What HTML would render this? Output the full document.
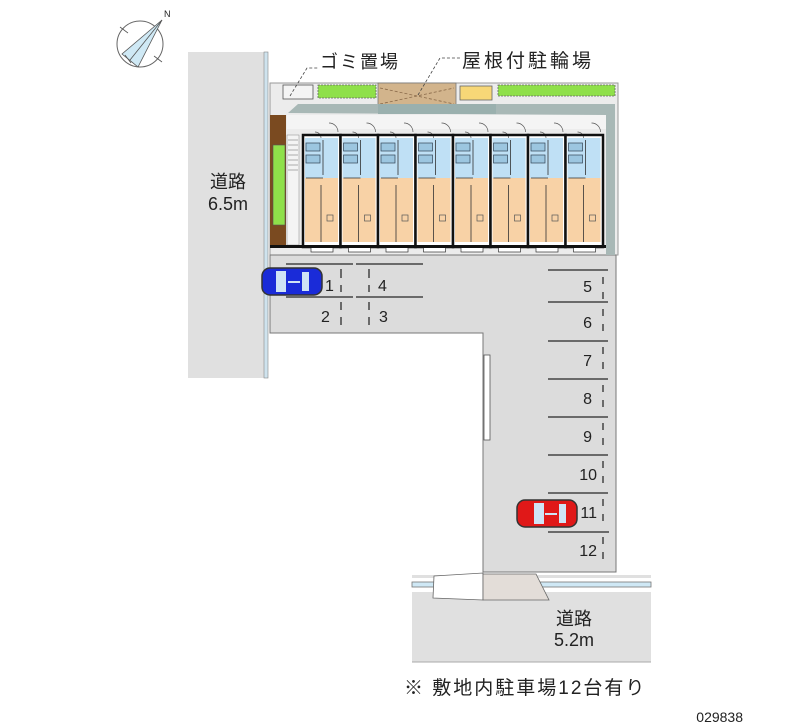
<!DOCTYPE html>
<html><head><meta charset="utf-8"><style>
html,body{margin:0;padding:0;background:#fff;width:800px;height:727px;overflow:hidden}
svg{display:block}
text{font-family:"Liberation Sans","Noto Sans CJK JP",sans-serif;fill:#222}
</style></head><body>
<svg width="800" height="727" viewBox="0 0 800 727" xmlns="http://www.w3.org/2000/svg">
<defs>
<g id="unit">
  <rect x="0" y="0" width="37.5" height="112" fill="#fff"/>
  <rect x="2" y="3" width="33" height="40" fill="#bfe0f5"/>
  <rect x="2" y="43" width="33" height="64" fill="#f8d2a6"/>
  <rect x="3" y="8" width="14" height="8" fill="#9cc6e0" stroke="#345" stroke-width="0.7"/>
  <rect x="3" y="20" width="14" height="8" fill="#9cc6e0" stroke="#345" stroke-width="0.7"/>
  <path d="M20 5 V40 M3 43 H20 M18 50 V107" stroke="#333" stroke-width="0.8" fill="none"/>
  <rect x="24" y="80" width="6" height="6" fill="none" stroke="#555" stroke-width="0.7"/>
  <path d="M12 -3 a6 6 0 0 1 6 6 M26 -12 a9 9 0 0 1 9 9" stroke="#555" stroke-width="0.7" fill="none"/>
  <rect x="0" y="0" width="37.5" height="112" fill="none" stroke="#111" stroke-width="2.5"/>
  <rect x="8" y="112" width="22" height="5" fill="#fff" stroke="#333" stroke-width="0.7"/>
</g>
</defs>
<!-- compass -->
<circle cx="140" cy="44" r="23" fill="none" stroke="#666" stroke-width="1"/>
<path d="M162 20 L122 54 L138 67 Z" fill="#cfe9f5" stroke="#555" stroke-width="0.8"/>
<path d="M162 20 L130 60" stroke="#555" stroke-width="0.8"/>
<path d="M120 27 l8 6 M154 56 l8 6 M125 55 l6 8" stroke="#555" stroke-width="0.8"/>
<text x="164" y="17" font-size="9">N</text>
<!-- left road -->
<rect x="188" y="52" width="77" height="326" fill="#e0e0e0"/>
<rect x="264" y="52" width="4" height="326" fill="#cfe3ee" stroke="#888" stroke-width="0.6"/>
<text x="228" y="188" font-size="18" text-anchor="middle">道路</text>
<text x="228" y="210" font-size="18" text-anchor="middle">6.5m</text>
<!-- lot background -->
<rect x="270" y="83" width="348" height="172" fill="#ececec" stroke="#999" stroke-width="1"/>
<path d="M270 255 H616 V572 H483 V333 H270 Z" fill="#dcdcdc" stroke="#777" stroke-width="1"/>
<rect x="484" y="355" width="6" height="85" fill="#fff" stroke="#555" stroke-width="0.8"/>
<!-- top strip -->
<rect x="283" y="85" width="30" height="14" fill="#f4f4f4" stroke="#555" stroke-width="0.8"/>
<rect x="318" y="85" width="58" height="13" fill="#8fe04a" stroke="#666" stroke-width="0.8" stroke-dasharray="2 1"/>
<rect x="378" y="83" width="78" height="25" fill="#d2b48c" stroke="#777" stroke-width="0.8"/>
<path d="M380 88 L454 104 M380 104 L454 88" stroke="#8a6a4a" stroke-dasharray="3 2" stroke-width="0.8"/>
<rect x="460" y="86" width="32" height="14" fill="#f7d777" stroke="#666" stroke-width="0.8"/>
<rect x="498" y="85" width="117" height="11" fill="#8fe04a" stroke="#666" stroke-width="0.8" stroke-dasharray="2 1"/>
<path d="M288 113 L298 104 H615 V255 H606 V115 Z" fill="#a8b8b6"/>
<rect x="378" y="104" width="118" height="10" fill="#9ab0ae"/>
<rect x="287" y="115" width="319" height="14" fill="#f4f4f4"/>
<!-- left stair / green -->
<rect x="270" y="115" width="16" height="132" fill="#7a4a20"/>
<rect x="273" y="145" width="12" height="80" fill="#8fe04a" stroke="#555" stroke-width="0.6"/>
<rect x="287" y="135" width="12" height="110" fill="#f4f4f4" stroke="#888" stroke-width="0.5"/>
<path d="M288 140 H298 M288 145 H298 M288 150 H298 M288 155 H298 M288 160 H298 M288 165 H298 M288 170 H298" stroke="#666" stroke-width="0.5"/>
<!-- units -->
<g transform="translate(303,135)"><use href="#unit"/></g>
<g transform="translate(340.5,135)"><use href="#unit"/></g>
<g transform="translate(378,135)"><use href="#unit"/></g>
<g transform="translate(415.5,135)"><use href="#unit"/></g>
<g transform="translate(453,135)"><use href="#unit"/></g>
<g transform="translate(490.5,135)"><use href="#unit"/></g>
<g transform="translate(528,135)"><use href="#unit"/></g>
<g transform="translate(565.5,135)"><use href="#unit"/></g>
<rect x="270" y="245" width="336" height="3" fill="#111"/>
<!-- labels top -->
<path d="M290 96 L307 68 H318" stroke="#444" stroke-width="0.8" stroke-dasharray="3 2" fill="none"/>
<text x="320" y="68" font-size="18" letter-spacing="2">ゴミ置場</text>
<path d="M418 95 L440 58 H460" stroke="#444" stroke-width="0.8" stroke-dasharray="3 2" fill="none"/>
<text x="462" y="67" font-size="19" letter-spacing="3">屋根付駐輪場</text>
<!-- parking left -->
<g stroke="#444" stroke-width="1.5">
<path d="M286 264 H353 M356 264 H423 M286 297 H353 M356 297 H423"/>
<path d="M341 269 V278 M341 285 V292 M341 302 V310 M341 317 V325" />
<path d="M369 269 V278 M369 285 V292 M369 302 V310 M369 317 V325" />
</g>
<g font-size="16">
<text x="325" y="291">1</text>
<text x="378" y="291">4</text>
<text x="321" y="322">2</text>
<text x="379" y="322">3</text>
</g>
<!-- right parking -->
<g stroke="#444" stroke-width="1.5">
<path d="M548 270 H608 M548 302 H608 M548 341 H608 M548 379 H608 M548 417 H608 M548 455 H608 M548 493 H608 M548 532 H609"/>
<path d="M603 277 V284 M603 292 V299 M603 309 V316 M603 324 V331 M603 347 V354 M603 362 V369 M603 385 V392 M603 400 V407 M603 423 V430 M603 438 V445 M603 461 V468 M603 476 V483 M603 499 V506 M603 514 V521 M603 537 V544 M603 552 V559"/>
</g>
<g font-size="16" text-anchor="end">
<text x="592" y="292">5</text>
<text x="592" y="328">6</text>
<text x="592" y="366">7</text>
<text x="592" y="404">8</text>
<text x="592" y="442">9</text>
<text x="597" y="480">10</text>
<text x="597" y="518">11</text>
<text x="597" y="556">12</text>
</g>
<!-- cars -->
<g transform="translate(262,268)">
<rect x="0" y="0" width="60" height="27" rx="8" fill="#1a2bd8" stroke="#333" stroke-width="1.5"/>
<rect x="14" y="3" width="10" height="21" fill="#cfe3f5"/>
<rect x="40" y="4" width="7" height="19" fill="#cfe3f5"/>
<path d="M26 14 H38" stroke="#cfe3f5" stroke-width="2"/>
</g>
<g transform="translate(517,500)">
<rect x="0" y="0" width="60" height="27" rx="8" fill="#e01818" stroke="#333" stroke-width="1.5"/>
<rect x="17" y="3" width="10" height="21" fill="#cfe3f5"/>
<rect x="42" y="4" width="7" height="19" fill="#cfe3f5"/>
<path d="M28 14 H40" stroke="#cfe3f5" stroke-width="2"/>
</g>
<!-- bottom road -->
<rect x="412" y="575" width="239" height="87" fill="#e0e0e0"/>
<rect x="412" y="578" width="239" height="14" fill="#fff"/>
<rect x="412" y="582" width="239" height="5" fill="#cfe8f5" stroke="#777" stroke-width="0.8"/>
<path d="M434 576 L483 573 V600 L433 598 Z" fill="#fff" stroke="#666" stroke-width="0.8"/>
<path d="M483 574 H536 L549 600 H483 Z" fill="#e3ddd8" stroke="#666" stroke-width="0.8"/>
<line x1="412" y1="662" x2="651" y2="662" stroke="#aaa"/>
<text x="574" y="625" font-size="18" text-anchor="middle">道路</text>
<text x="574" y="646" font-size="18" text-anchor="middle">5.2m</text>
<text x="404" y="694" font-size="19" letter-spacing="2">※ 敷地内駐車場12台有り</text>
<text x="743" y="722" font-size="14" text-anchor="end">029838</text>
</svg>
</body></html>
